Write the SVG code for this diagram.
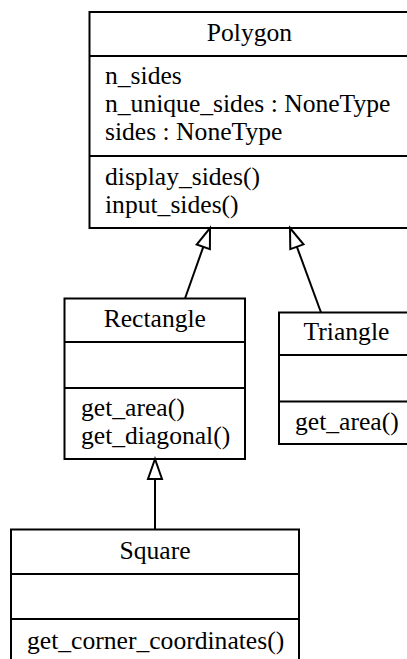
<svg xmlns="http://www.w3.org/2000/svg" width="407" height="659" viewBox="0 0 407 659">
<style>
  .box { fill: #ffffff; stroke: #000000; stroke-width: 2; }
  .div { stroke: #000000; stroke-width: 2; }
  .c { text-anchor: middle; }
  .edge { stroke: #000000; stroke-width: 2; fill: none; }
  .head { fill: #ffffff; stroke: #000000; stroke-width: 2; }
</style>
<rect width="407" height="659" fill="#ffffff"/>
<g font-family="Liberation Serif, Times New Roman, serif" font-size="25.6" fill="#000000">
<g id="Polygon">
  <rect class="box" x="89.5" y="12" width="322" height="216"/>
  <line class="div" x1="89.5" y1="56" x2="411.5" y2="56"/>
  <line class="div" x1="89.5" y1="156" x2="411.5" y2="156"/>
  <text class="c" x="249.5" y="41">Polygon</text>
  <text x="105" y="84">n_sides</text>
  <text x="105" y="112">n_unique_sides : NoneType</text>
  <text x="105" y="140">sides : NoneType</text>
  <text x="105" y="185">display_sides()</text>
  <text x="105" y="213">input_sides()</text>
</g>
<g id="Rectangle">
  <rect class="box" x="64.5" y="298.5" width="180.5" height="160.5"/>
  <line class="div" x1="64.5" y1="342" x2="245" y2="342"/>
  <line class="div" x1="64.5" y1="388" x2="245" y2="388"/>
  <text class="c" x="154.8" y="327">Rectangle</text>
  <text x="81" y="416">get_area()</text>
  <text x="81" y="444">get_diagonal()</text>
</g>
<g id="Triangle">
  <rect class="box" x="279" y="312.5" width="136" height="131.5"/>
  <line class="div" x1="279" y1="355" x2="415" y2="355"/>
  <line class="div" x1="279" y1="401.5" x2="415" y2="401.5"/>
  <text class="c" x="346.5" y="340">Triangle</text>
  <text x="295" y="430">get_area()</text>
</g>
<g id="Square">
  <rect class="box" x="11" y="529.5" width="288" height="140"/>
  <line class="div" x1="11" y1="574" x2="299" y2="574"/>
  <line class="div" x1="11" y1="619" x2="299" y2="619"/>
  <text class="c" x="155" y="559">Square</text>
  <text x="27" y="649">get_corner_coordinates()</text>
</g>
</g>
<g id="connectors">
  <line class="edge" x1="185" y1="298.5" x2="203.3" y2="246.8"/>
  <polygon class="head" points="210,228 209.9,249.2 196.7,244.5"/>
  <line class="edge" x1="321" y1="312.5" x2="296.9" y2="246.8"/>
  <polygon class="head" points="290,228 303.5,244.4 290.3,249.2"/>
  <line class="edge" x1="155" y1="529.5" x2="155" y2="479"/>
  <polygon class="head" points="155,459 162,479 148,479"/>
</g>
</svg>
